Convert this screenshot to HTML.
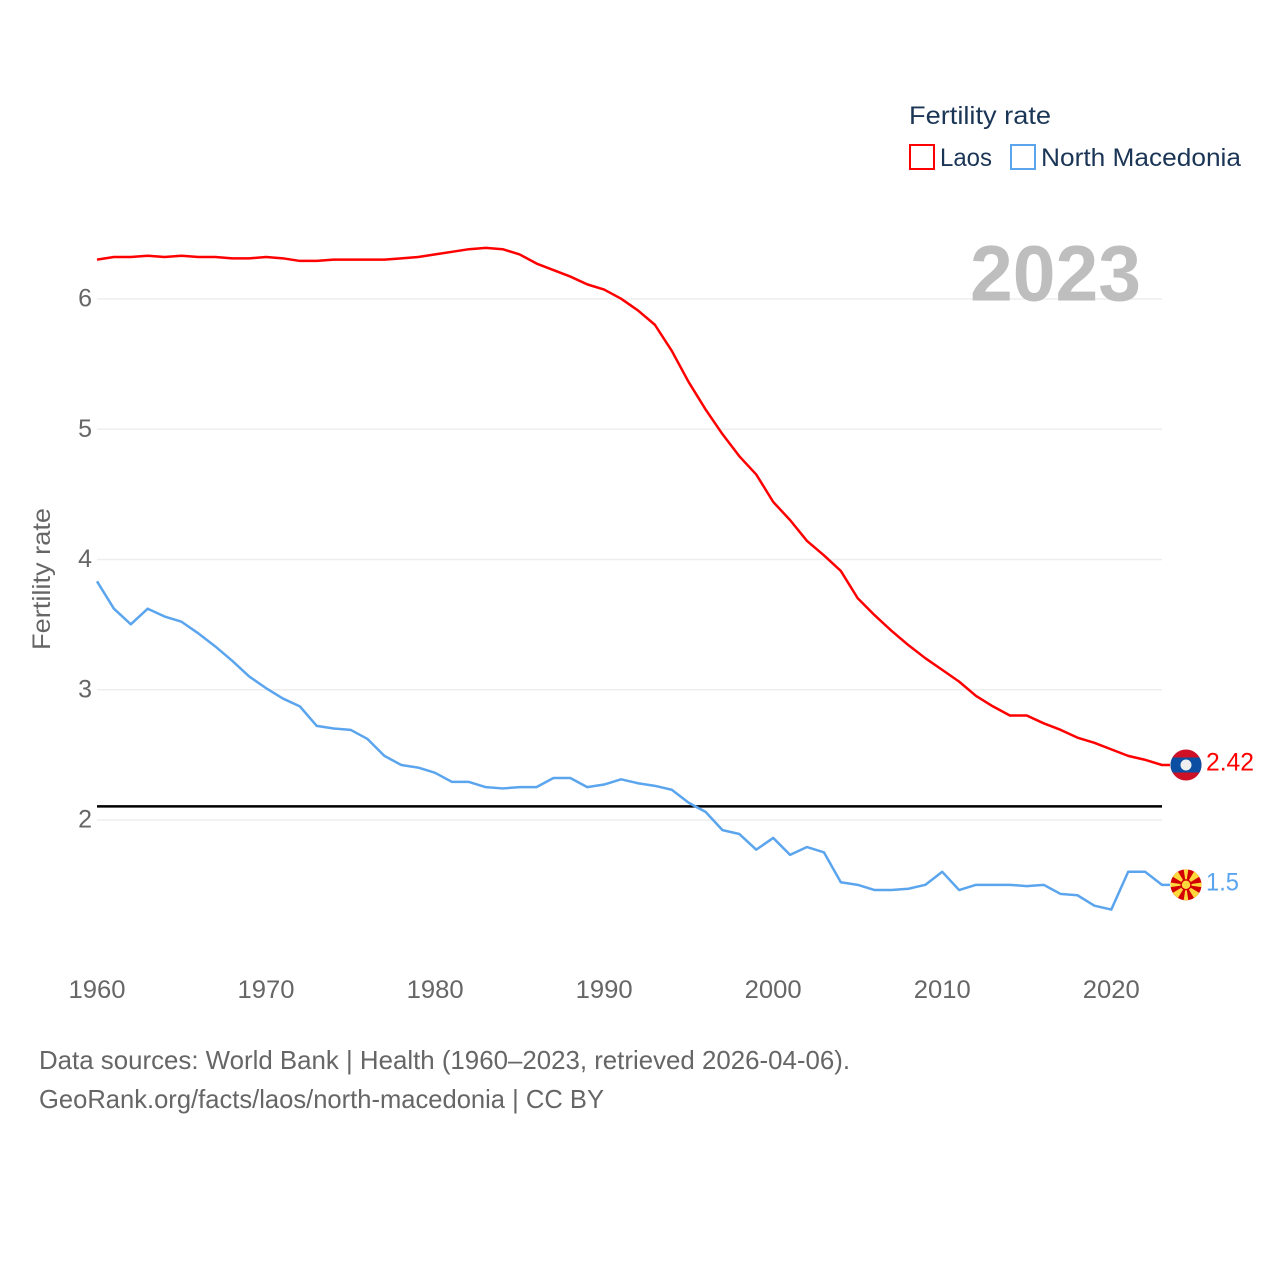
<!DOCTYPE html>
<html lang="en">
<head>
<meta charset="utf-8">
<title>Fertility rate: Laos and North Macedonia</title>
<style>
html,body{margin:0;padding:0;background:#fff;}
svg{display:block;font-family:"Liberation Sans",sans-serif;}
</style>
</head>
<body>
<svg id="chart" xmlns="http://www.w3.org/2000/svg" width="1280" height="1280" viewBox="0 0 1280 1280">
  <defs>
    <clipPath id="flag-clip"><circle r="15.5"/></clipPath>
  </defs>
  <rect width="1280" height="1280" fill="#fff"/>
  <g id="grid"></g>
  <text x="970" y="300.5" font-size="79" font-weight="700" fill="#bebebe" textLength="171" lengthAdjust="spacingAndGlyphs">2023</text>
  <g id="yticks"></g>
  <g id="xticks"></g>
  <text transform="translate(50,650) rotate(-90)" font-size="25" fill="#666" textLength="142" lengthAdjust="spacingAndGlyphs">Fertility rate</text>
  <g id="series"></g>

  <g>
    <text x="909" y="124" font-size="25" fill="#1a3556" textLength="142" lengthAdjust="spacingAndGlyphs">Fertility rate</text>
    <g>
      <rect x="910" y="145" width="24" height="24" fill="none" stroke="#ff0000" stroke-width="2"/>
      <text x="940" y="166" font-size="25" fill="#1a3556" textLength="52" lengthAdjust="spacingAndGlyphs">Laos</text>
    </g>
    <g>
      <rect x="1011" y="145" width="24" height="24" fill="none" stroke="#5ba5ee" stroke-width="2"/>
      <text x="1041" y="166" font-size="25" fill="#1a3556" textLength="200" lengthAdjust="spacingAndGlyphs">North Macedonia</text>
    </g>
  </g>

  <g id="flag-laos">
    <g clip-path="url(#flag-clip)">
      <rect x="-16" y="-16" width="32" height="32" fill="#ce1126"/>
      <rect x="-16" y="-7.5" width="32" height="15" fill="#0b4ea2"/>
    </g>
    <circle r="5.5" fill="#eeeeee"/>
  </g>
  <g id="flag-mk">
    <g clip-path="url(#flag-clip)">
      <rect x="-16" y="-16" width="32" height="32" fill="#d20000"/>
      <g fill="#ffd83d">
        <polygon points="-2.4,-16 2.4,-16 0,0"/>
        <polygon points="-2.4,16 2.4,16 0,0"/>
        <polygon points="-16,-2.4 -16,2.4 0,0"/>
        <polygon points="16,-2.4 16,2.4 0,0"/>
        <polygon points="8.3,-13.6 13.6,-8.3 0,0"/>
        <polygon points="-8.3,-13.6 -13.6,-8.3 0,0"/>
        <polygon points="8.3,13.6 13.6,8.3 0,0"/>
        <polygon points="-8.3,13.6 -13.6,8.3 0,0"/>
      </g>
    </g>
    <circle r="5.6" fill="#d20000"/>
    <circle r="4.2" fill="#ffd83d"/>
  </g>
  <text id="value-laos" x="1206" font-size="25" fill="#ff0000" textLength="48" lengthAdjust="spacingAndGlyphs"></text>
  <text id="value-mk" x="1206" font-size="25" fill="#5ba5ee" textLength="33" lengthAdjust="spacingAndGlyphs"></text>

  <text x="39" y="1069" font-size="26" fill="#666" textLength="811" lengthAdjust="spacingAndGlyphs">Data sources: World Bank | Health (1960–2023, retrieved 2026-04-06).</text>
  <text x="39" y="1108" font-size="26" fill="#666" textLength="565" lengthAdjust="spacingAndGlyphs">GeoRank.org/facts/laos/north-macedonia | CC BY</text>
</svg>
<script>
var years = [];
for (var yr = 1960; yr <= 2023; yr++) { years.push(yr); }
var laosValues = [6.30,6.32,6.32,6.33,6.32,6.33,6.32,6.32,6.31,6.31,
  6.32,6.31,6.29,6.29,6.30,6.30,6.30,6.30,6.31,6.32,
  6.34,6.36,6.38,6.39,6.38,6.34,6.27,6.22,6.17,6.11,
  6.07,6.00,5.91,5.80,5.60,5.36,5.15,4.96,4.79,4.65,
  4.44,4.30,4.14,4.03,3.91,3.70,3.57,3.45,3.34,3.24,
  3.15,3.06,2.95,2.87,2.80,2.80,2.74,2.69,2.63,2.59,
  2.54,2.49,2.46,2.42];
var macedoniaValues = [3.83,3.62,3.50,3.62,3.56,3.52,3.43,3.33,3.22,3.10,
  3.01,2.93,2.87,2.72,2.70,2.69,2.62,2.49,2.42,2.40,
  2.36,2.29,2.29,2.25,2.24,2.25,2.25,2.32,2.32,2.25,
  2.27,2.31,2.28,2.26,2.23,2.13,2.06,1.92,1.89,1.77,
  1.86,1.73,1.79,1.75,1.52,1.50,1.46,1.46,1.47,1.50,
  1.60,1.46,1.50,1.50,1.50,1.49,1.50,1.43,1.42,1.34,
  1.31,1.60,1.60,1.50];
var yTickValues = [2,3,4,5,6];
var xTickValues = [1960,1970,1980,1990,2000,2010,2020];
var replacementRate = [2.1];
var laosLabel = ["2.42"];
var macedoniaLabel = ["1.5"];

var NS = "http://www.w3.org/2000/svg";
function xScale(year) { return 97 + (year - 1960) * (1162 - 97) / 63; }
function yScale(value) { return 820 - (value - 2) * 130.25; }
function yData(value) { return yScale(value) - 0.3; }
function make(tag, parent, attrs) {
  var el = document.createElementNS(NS, tag);
  for (var k in attrs) { el.setAttribute(k, attrs[k]); }
  parent.appendChild(el);
  return el;
}

var grid = document.getElementById("grid");
var yticks = document.getElementById("yticks");
yTickValues.forEach(function (v) {
  var gl = make("line", grid, {x1: 97, x2: 1162, y1: yScale(v), y2: yScale(v), stroke: "#eeeeee", "stroke-width": 1.5});
  
  
  var t = make("text", yticks, {x: 92, y: yScale(v) + 7.5, "text-anchor": "end", "font-size": 25, fill: "#666"});
  
  
  t.textContent = v;
});

var xticks = document.getElementById("xticks");
xTickValues.forEach(function (v) {
  var t = make("text", xticks, {x: xScale(v) - 28.5, y: 998, "font-size": 25, fill: "#666", textLength: 57, lengthAdjust: "spacingAndGlyphs"});
  
  
  t.textContent = v;
});

function linePoints(values) {
  var pts = values.map(function (v, i) {
    return xScale(years[i]).toFixed(2) + "," + yData(v).toFixed(2);
  });
  pts.push((xScale(years[years.length - 1]) + 8).toFixed(2) + "," + yData(values[values.length - 1]).toFixed(2));
  return pts.join(" ");
}
var series = document.getElementById("series");
var refLine = make("line", series, {x1: 97, x2: 1162, y1: yData(replacementRate[0]) - 0.3, y2: yData(replacementRate[0]) - 0.3, stroke: "#000", "stroke-width": 2.6});


var laosLine = make("polyline", series, {points: linePoints(laosValues), fill: "none", stroke: "#ff0000", "stroke-width": 2.5, "stroke-linejoin": "round"});


var mkLine = make("polyline", series, {points: linePoints(macedoniaValues), fill: "none", stroke: "#5ba5ee", "stroke-width": 2.5, "stroke-linejoin": "round"});



var laosEndY = yData(laosValues[laosValues.length - 1]);
var mkEndY = yData(macedoniaValues[macedoniaValues.length - 1]);
document.getElementById("flag-laos").setAttribute("transform", "translate(1186," + laosEndY + ")");
document.getElementById("flag-mk").setAttribute("transform", "translate(1186," + mkEndY + ")");
var vl = document.getElementById("value-laos");
vl.setAttribute("y", laosEndY + 5.7);
vl.textContent = laosLabel[0];
var vm = document.getElementById("value-mk");
vm.setAttribute("y", mkEndY + 5.7);
vm.textContent = macedoniaLabel[0];
</script>
</body>
</html>
